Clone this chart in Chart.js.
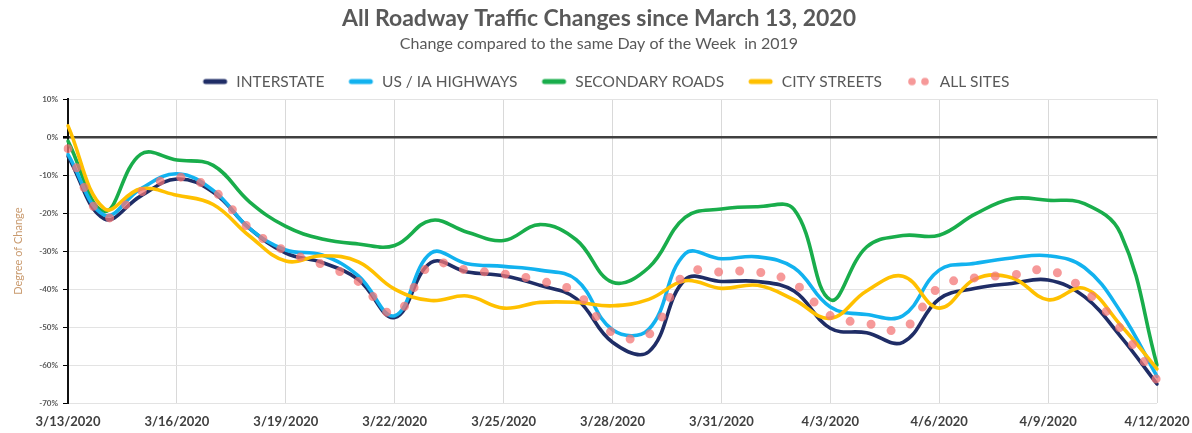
<!DOCTYPE html>
<html>
<head>
<meta charset="utf-8">
<script src="https://cdn.jsdelivr.net/npm/chart.js@4.4.1/dist/chart.umd.min.js"></script>
<style>
  html, body { margin: 0; padding: 0; background: #ffffff; }
  #wrap { width: 1192px; height: 433px; }
</style>
</head>
<body>
<div id="wrap"><canvas id="c" width="1192" height="433"></canvas></div>
<script>
const dates = ['3/13/2020','3/14/2020','3/15/2020','3/16/2020','3/17/2020','3/18/2020','3/19/2020','3/20/2020',
  '3/21/2020','3/22/2020','3/23/2020','3/24/2020','3/25/2020','3/26/2020','3/27/2020','3/28/2020','3/29/2020',
  '3/30/2020','3/31/2020','4/1/2020','4/2/2020','4/3/2020','4/4/2020','4/5/2020','4/6/2020','4/7/2020','4/8/2020',
  '4/9/2020','4/10/2020','4/11/2020','4/12/2020'];

const interstate = [-5, -21.5, -15.5, -11, -14.5, -24, -30.5, -33, -37.5, -47.5, -33, -35.5, -36.5, -39, -42.5,
  -54, -56.5, -37.5, -38, -38, -40.5, -50.3, -51.5, -54, -42.6, -39.8, -38.5, -37.6, -42, -52.5, -65];
const usIaHighways = [-4.5, -20.5, -13.6, -9.6, -14, -24, -29.7, -31, -36.5, -47, -30.5, -33.3, -34, -35, -37.5,
  -50.7, -50.6, -30.7, -32, -31.5, -34.4, -44.7, -46.7, -47, -35, -33.2, -31.8, -31.2, -34.3, -46, -63];
const secondaryRoads = [-1, -19.5, -4.5, -6, -7.4, -17, -23.5, -26.8, -28.1, -28.5, -21.9, -25, -27.2, -23, -27,
  -38.2, -34.3, -21.1, -18.9, -18.3, -19, -42.8, -28.9, -25.9, -25.8, -20.2, -16.2, -16.6, -17.5, -25.4, -60];
const cityStreets = [3, -18.8, -13.6, -15.3, -17.7, -26, -32.6, -31.2, -32.8, -40, -43, -41.8, -45, -43.5, -43.5,
  -44.4, -42.7, -37.8, -39.8, -39, -42.8, -47.7, -40.5, -36.6, -45, -37.3, -37, -42.8, -39.8, -49.5, -61];
const allSites = [-3, -21, -14.5, -10.5, -14, -24, -30, -33.5, -38, -46.5, -33.5, -35, -36, -37.8, -41,
  -51.5, -52, -36, -35.5, -35.5, -38.5, -47, -49, -50.5, -39.5, -37, -36.3, -35, -40.3, -50.5, -64];

const seriesNames = ['INTERSTATE', 'US / IA HIGHWAYS', 'SECONDARY ROADS', 'CITY STREETS', 'ALL SITES'];
const yTicks = [10, 0, -10, -20, -30, -40, -50, -60, -70];

const C_NAVY = '#1f2d66';
const C_BLUE = '#12b2ef';
const C_GREEN = '#19ad4b';
const C_YELLOW = '#ffc000';
const C_DOT = 'rgba(243,118,118,0.74)';
const FONT = 'Lato, "Open Sans", sans-serif';

function lineIcon(color) {
  const c = document.createElement('canvas');
  c.width = 40; c.height = 8;
  const g = c.getContext('2d');
  g.strokeStyle = color; g.lineWidth = 5; g.lineCap = 'round';
  g.beginPath(); g.moveTo(17, 4); g.lineTo(36, 4); g.stroke();
  return c;
}
function dotsIcon(color) {
  const c = document.createElement('canvas');
  c.width = 40; c.height = 10;
  const g = c.getContext('2d');
  g.fillStyle = color;
  [20, 33].forEach(x => { g.beginPath(); g.arc(x, 5, 3.8, 0, Math.PI * 2); g.fill(); });
  return c;
}
const icons = [lineIcon(C_NAVY), lineIcon(C_BLUE), lineIcon(C_GREEN), lineIcon(C_YELLOW), dotsIcon(C_DOT)];

function lineDs(label, data, color, order) {
  return { label, data, borderColor: color, backgroundColor: color, borderWidth: 3.6,
    pointRadius: 0, tension: 0.4, fill: false, order, borderCapStyle: 'round', borderJoinStyle: 'round' };
}

const chart = new Chart(document.getElementById('c'), {
  type: 'line',
  data: {
    labels: dates,
    datasets: [
      lineDs(seriesNames[0], interstate, C_NAVY, 3),
      lineDs(seriesNames[1], usIaHighways, C_BLUE, 2),
      lineDs(seriesNames[2], secondaryRoads, C_GREEN, 4),
      lineDs(seriesNames[3], cityStreets, C_YELLOW, 1),
      { label: seriesNames[4], data: allSites, borderColor: C_DOT, backgroundColor: C_DOT, borderWidth: 9,
        borderDash: [0, 21], borderCapStyle: 'round', pointRadius: 0, tension: 0.4, fill: false, order: 0 }
    ]
  },
  options: {
    responsive: false,
    devicePixelRatio: 1,
    animation: false,
    layout: { padding: { left: 6, right: 0, top: 3, bottom: 0 } },
    plugins: {
      title: { display: true, text: 'All Roadway Traffic Changes since March 13, 2020', color: '#595959',
        font: { family: FONT, size: 23, weight: 'bold' }, padding: { top: 2, bottom: 2 } },
      subtitle: { display: true, text: 'Change compared to the same Day of the Week  in 2019', color: '#595959',
        font: { family: FONT, size: 16 }, padding: { top: 0, bottom: 10 } },
      legend: {
        display: true, position: 'top',
        labels: {
          usePointStyle: true, pointStyleWidth: 40, padding: 10, color: '#595959',
          font: { family: FONT, size: 15.5 },
          sort: (a, b) => a.datasetIndex - b.datasetIndex,
          generateLabels: (ch) => {
            const items = Chart.defaults.plugins.legend.labels.generateLabels(ch);
            items.forEach((it) => { it.pointStyle = icons[it.datasetIndex]; });
            return items;
          }
        }
      },
      tooltip: { enabled: false }
    },
    scales: {
      x: {
        type: 'category', offset: false,
        grid: { drawTicks: false, lineWidth: 1,
          color: (ctx) => (ctx.index % 3 === 0 ? '#d9d9d9' : 'rgba(0,0,0,0)') },
        border: { display: false },
        ticks: { autoSkip: false, maxRotation: 0, minRotation: 0, padding: 11, color: '#404040',
          font: { family: FONT, size: 13, weight: 'bold' },
          callback: (v, i) => (i % 3 === 0 ? dates[i] : '') },
        afterFit: (s) => { s.height = 30; s.paddingRight = 35; s.paddingLeft = 0; }
      },
      y: {
        min: -70, max: 10,
        afterBuildTicks: (s) => { s.ticks = yTicks.map(v => ({ value: v })); },
        grid: { drawTicks: true, tickLength: 5, tickColor: '#000',
          color: (ctx) => (ctx.tick && ctx.tick.value === 0 ? '#404040' : '#e3e3e3'),
          lineWidth: (ctx) => (ctx.tick && ctx.tick.value === 0 ? 2.6 : 1) },
        border: { display: true, color: '#111', width: 2 },
        ticks: { padding: 5, color: '#595959', font: { family: FONT, size: 8, weight: 'bold' },
          callback: (v) => v + '%' },
        title: { display: true, text: 'Degree of Change', color: '#c99a6e',
          font: { family: FONT, size: 11 }, padding: { top: 6, bottom: 2 } },
        afterFit: (s) => { s.width = 62; }
      }
    }
  }
});
</script>
</body>
</html>
